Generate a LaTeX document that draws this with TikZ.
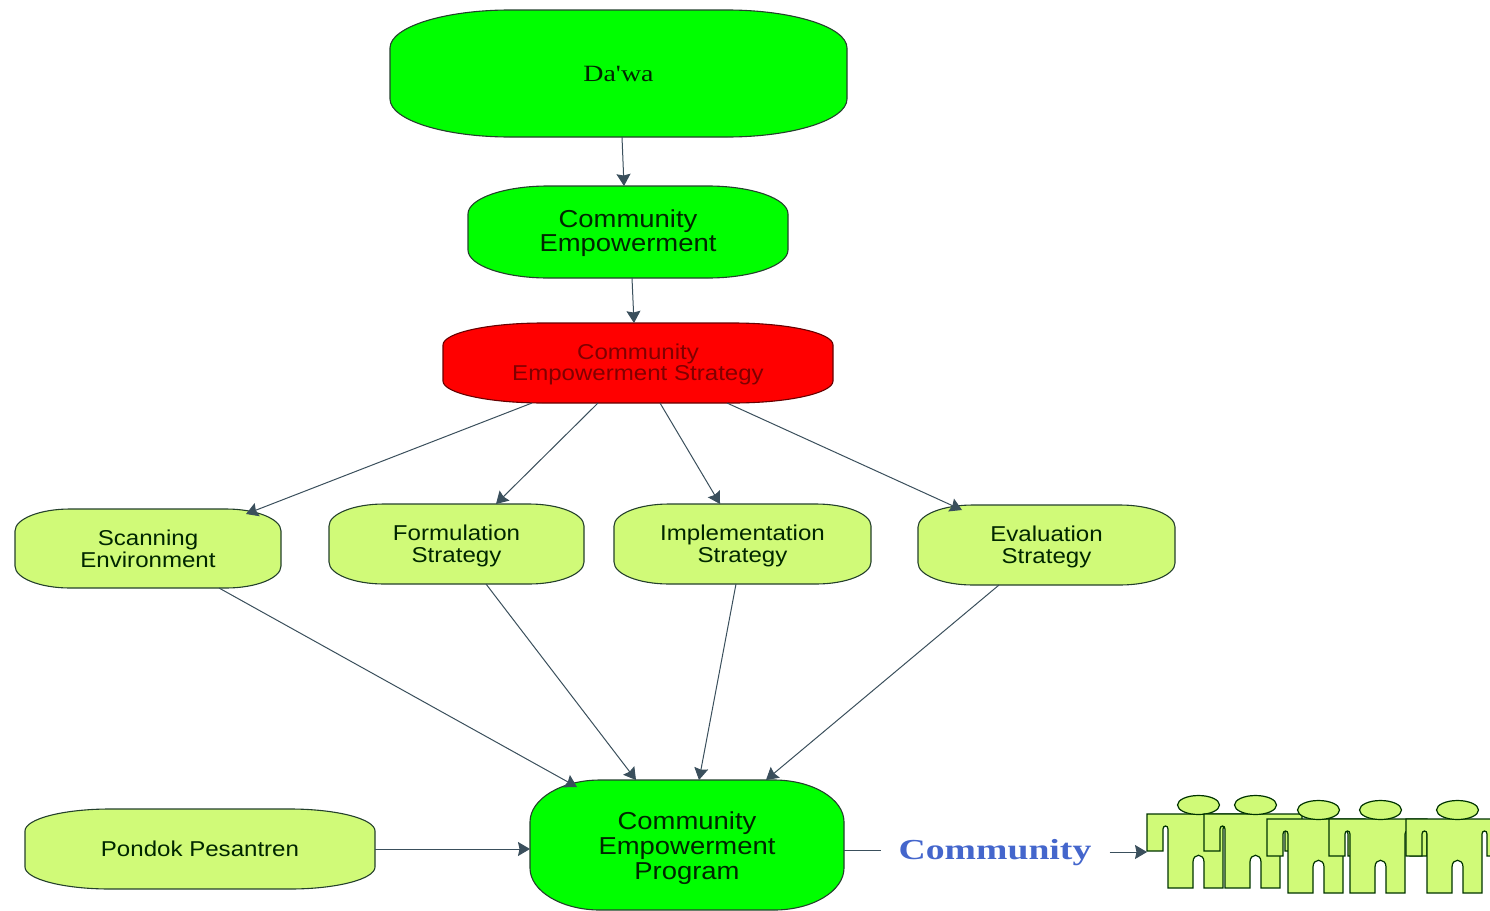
\documentclass[tikz,border=0pt]{standalone}
\usepackage{fontspec}
\setmainfont{Liberation Sans}
\newfontfamily\boxfont[FakeStretch=1.12]{Liberation Sans}
\newfontfamily\dawafont[FakeStretch=1.2]{Liberation Serif}
\newfontfamily\commfont[FakeStretch=1.3]{Liberation Serif}
\usetikzlibrary{arrows.meta}
\definecolor{limeg}{HTML}{00FF00}
\definecolor{redb}{HTML}{FF0000}
\definecolor{paley}{HTML}{D0FA78}
\definecolor{edgec}{HTML}{24402C}
\definecolor{linkc}{HTML}{3A4F5C}
\definecolor{commblue}{HTML}{4466CC}
\tikzset{
  shapegreen/.style={fill=limeg,draw=edgec,line width=1.1pt},
  shapered/.style={fill=redb,draw=black!60!red,line width=1.1pt},
  shapeyellow/.style={fill=paley,draw=edgec,line width=1.1pt},
  label box/.style={inner sep=0pt,outer sep=0pt,align=center,text=black!85!green},
  fontdawa/.style={font=\dawafont\fontsize{23.3}{24}\selectfont},
  fontmain/.style={font=\boxfont\fontsize{24.5}{24}\selectfont},
  fontprog/.style={font=\boxfont\fontsize{24.5}{25}\selectfont},
  fontred/.style={font=\boxfont\fontsize{21.5}{21}\selectfont,text=black!50!red},
  fontpale/.style={font=\boxfont\fontsize{21.5}{22}\selectfont},
  link/.style={draw=linkc,line width=1pt,-{Stealth[length=12pt,width=14pt,inset=1.5pt]}},
  plainlink/.style={draw=linkc,line width=1pt},
  figure/.style={fill=paley,draw=black!80!green,line width=1.2pt,line join=miter},
}
% name, L, T, R, B, rx, ry, "shape style, font style" split by /, text
\def\splitstyle#1/#2\relax{\def\shapestyle{#1}\def\textstyle{#2}}
\newcommand{\softbox}[9]{%
  \splitstyle#8\relax
  \path[style/.expand once=\shapestyle] (#2+#6,#3) -- (#4-#6,#3)
    .. controls (#4-0.45*#6,#3) and (#4,#3+0.45*#7) .. (#4,#3+#7)
    -- (#4,#5-#7)
    .. controls (#4,#5-0.45*#7) and (#4-0.45*#6,#5) .. (#4-#6,#5)
    -- (#2+#6,#5)
    .. controls (#2+0.45*#6,#5) and (#2,#5-0.45*#7) .. (#2,#5-#7)
    -- (#2,#3+#7)
    .. controls (#2,#3+0.45*#7) and (#2+0.45*#6,#3) .. (#2+#6,#3) -- cycle;
  \node[label box,style/.expand once=\textstyle,minimum width={(#4-#2)*1pt},minimum height={(#5-#3)*1pt}]
    (#1) at ({(#2+#4)/2},{(#3+#5)/2}) {#9};
}
% one figure of the crowd: x shift, y shift
\newcommand{\crowdfigure}[2]{%
  \begin{scope}[shift={(#1,#2)}]
    \path[figure] (1147,814) -- (1245,814) -- (1245,851) -- (1228,851) -- (1228,829)
      .. controls (1228,825) and (1223,825) .. (1223,829)
      -- (1223,888) -- (1204,888) -- (1204,862)
      .. controls (1204,853) and (1193,853) .. (1193,862)
      -- (1193,888) -- (1168,888) -- (1168,829)
      .. controls (1168,825) and (1163,825) .. (1163,829)
      -- (1163,851) -- (1147,851) -- cycle;
    \path[figure] (1198.5,805) ellipse [x radius=21,y radius=9.5];
  \end{scope}
}
\begin{document}
\begin{tikzpicture}[x=1pt,y=-1pt]
\useasboundingbox (0,0) rectangle (1490,910);
\clip (0,0) rectangle (1490,910);
\softbox{dawa}{390}{10}{847}{137}{120}{38}{shapegreen/fontdawa}{Da'wa}
\softbox{ce}{468}{186}{788}{278}{80}{28}{shapegreen/fontmain}{\rule{0pt}{21pt}Community\\Empowerment}
\softbox{ces}{443}{323}{833}{403}{100}{22}{shapered/fontred}{\rule{0pt}{19pt}Community\\Empowerment Strategy}
\softbox{scan}{15}{509}{281}{588}{55}{22}{shapeyellow/fontpale}{Scanning\\Environment}
\softbox{form}{329}{504}{584}{584}{55}{22}{shapeyellow/fontpale}{\rule{0pt}{20pt}Formulation\\Strategy}
\softbox{impl}{614}{504}{871}{584}{55}{22}{shapeyellow/fontpale}{\rule{0pt}{20pt}Implementation\\Strategy}
\softbox{eval}{918}{505}{1175}{585}{55}{22}{shapeyellow/fontpale}{\rule{0pt}{20pt}Evaluation\\Strategy}
\softbox{pondok}{25}{809}{375}{889}{85}{22}{shapeyellow/fontpale}{Pondok Pesantren}
\softbox{prog}{530}{780}{844}{910}{70}{42}{shapegreen/fontprog}{\rule{0pt}{25pt}Community\\Empowerment\\Program}
\node[inner sep=0pt,text=commblue,font=\commfont\bfseries\fontsize{29}{30}\selectfont] (comm) at (995,853) {Community};
\crowdfigure{0}{0}
\crowdfigure{57}{0}
\crowdfigure{120}{5}
\crowdfigure{182}{5}
\crowdfigure{259}{5}
\coordinate (crowd) at (1147,852);
\draw[link] ([xshift=3.5pt]dawa.south) -- ([xshift=-4pt]ce.north);
\draw[link] ([xshift=4pt]ce.south) -- ([xshift=-4pt]ces.north);
\draw[link] ([xshift=-106pt]ces.south) -- ([xshift=98pt,yshift=-5pt]scan.north);
\draw[link] ([xshift=-40pt]ces.south) -- ([xshift=39.5pt]form.north);
\draw[link] ([xshift=22pt]ces.south) -- ([xshift=-22.5pt]impl.north);
\draw[link] ([xshift=89pt]ces.south) -- ([xshift=-84.5pt,yshift=-5pt]eval.north);
\draw[link] ([xshift=71pt]scan.south) -- ([xshift=-110pt,yshift=-7pt]prog.north);
\draw[link] ([xshift=29.5pt]form.south) -- ([xshift=-51pt]prog.north);
\draw[link] ([xshift=-6.5pt]impl.south) -- ([xshift=12pt]prog.north);
\draw[link] ([xshift=-47.5pt]eval.south) -- ([xshift=79pt]prog.north);
\draw[link] (pondok.east) -- (prog.west |- pondok.east);
\draw[plainlink] ([yshift=3pt]prog.east |- comm.west) -- ([xshift=-17pt,yshift=3pt]comm.west);
\draw[link] (comm.east |- crowd) ++(18pt,0pt) -- (crowd);
\end{tikzpicture}
\end{document}
